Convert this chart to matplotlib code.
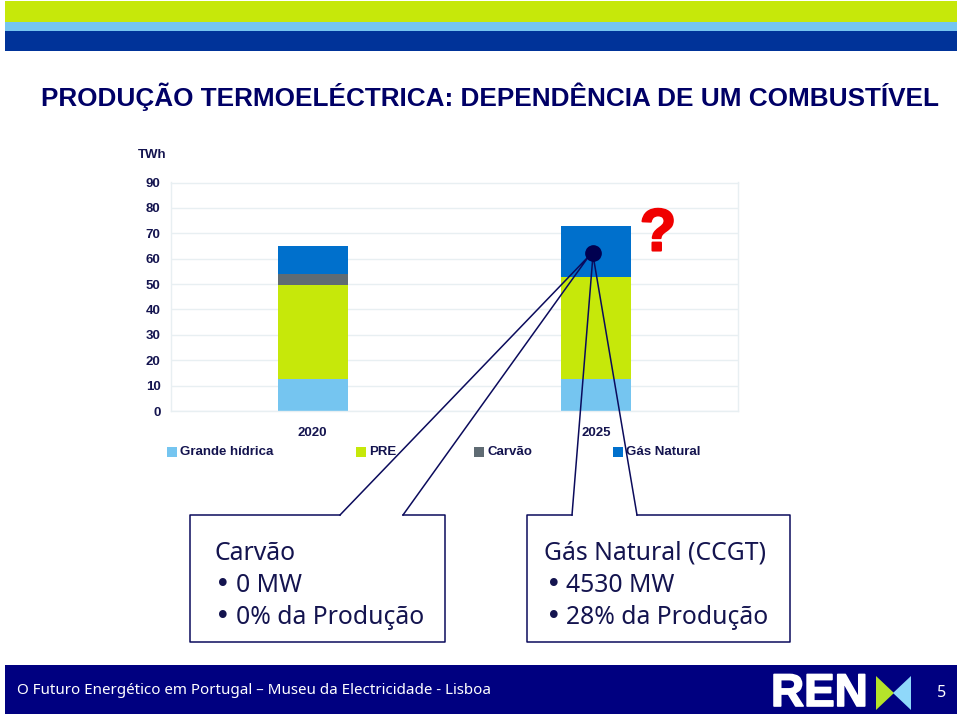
import matplotlib
matplotlib.use("Agg")
import matplotlib.pyplot as plt
import matplotlib.patheffects as pe
from matplotlib.patches import Rectangle, Polygon

years = ["2020", "2025"]
series_names = ["Grande hídrica", "PRE", "Carvão", "Gás Natural"]
grande_hidrica = [12.5, 12.5]
pre = [37.0, 40.2]
carvao = [4.5, 0.0]
gas_natural = [11.0, 20.0]
y_ticks = [0, 10, 20, 30, 40, 50, 60, 70, 80, 90]

colors = ["#75c5f0", "#c6e80a", "#5f6b73", "#0070cc"]
navy = "#0b0b5c"
W, H = 960, 716

fig = plt.figure(figsize=(9.6, 7.16), dpi=100, facecolor="white")

# full page layer in pixel coordinates
page = fig.add_axes([0, 0, 1, 1], zorder=0)
page.set_xlim(0, W)
page.set_ylim(H, 0)
page.axis("off")

# chart
left, right, top, bottom = 171, 738, 182.5, 411
ax = fig.add_axes([left / W, 1 - bottom / H, (right - left) / W, (bottom - top) / H], zorder=1)
ax.patch.set_alpha(0)
ax.set_xlim(-0.5, 1.5)
ax.set_ylim(0, 90)
ax.set_yticks(y_ticks)
ax.set_xticks([0, 1])
ax.set_xticklabels(years)
ax.grid(axis="y", color="#e8eff2", linewidth=1)
ax.set_axisbelow(True)
for s in ax.spines.values():
    s.set_color("#e8eff2")
    s.set_linewidth(1)
ax.tick_params(axis="both", length=0, labelsize=9.5, labelcolor="#14144f")
ax.tick_params(axis="y", pad=7.5)
ax.tick_params(axis="x", pad=11.5)
for t in ax.get_xticklabels() + ax.get_yticklabels():
    t.set_family("Liberation Sans")
    t.set_fontweight("bold")

base = [0, 0]
for name, vals, c in zip(series_names, [grande_hidrica, pre, carvao, gas_natural], colors):
    ax.bar([0, 1], vals, 0.247, bottom=base, color=c, label=name, zorder=2)
    base = [b + v for b, v in zip(base, vals)]

# top bands
page.add_patch(Rectangle((5, 1), 952, 21, color="#c6e80a", lw=0))
page.add_patch(Rectangle((5, 22), 952, 9, color="#75c5f0", lw=0))
page.add_patch(Rectangle((5, 31), 952, 20, color="#003399", lw=0))

# title
page.text(41, 97, "PRODUÇÃO TERMOELÉCTRICA: DEPENDÊNCIA DE UM COMBUSTÍVEL", fontsize=18.8,
          family="Liberation Sans", fontweight="bold", color="#000066", va="center", ha="left")
page.text(138, 155, "TWh", fontsize=9.5, family="Liberation Sans", fontweight="bold",
          color="#14144f", va="center")

# legend
for x, name, c in zip([167, 356, 474, 613], series_names, colors):
    page.add_patch(Rectangle((x, 447), 10, 10, color=c, lw=0))
    page.text(x + 13, 452, name, fontsize=9.5, family="Liberation Sans", fontweight="bold",
              color="#14144f", va="center", ha="left")

# callouts, over the chart
over = fig.add_axes([0, 0, 1, 1], zorder=2)
over.set_xlim(0, W)
over.set_ylim(H, 0)
over.axis("off")
over.patch.set_alpha(0)

over.text(658, 235, "?", fontsize=43, family="Liberation Sans", fontweight="bold",
          color="#f00000", va="center", ha="center",
          path_effects=[pe.withStroke(linewidth=1.5, foreground="#f00000")])
over.plot([593], [252.5], "o", ms=11, color="#000050", zorder=5)

over.add_patch(Rectangle((190, 515), 255, 127, fc="white", ec="none"))
over.add_patch(Rectangle((527, 515), 263, 127, fc="white", ec="none"))
over.plot([340, 190, 190, 445, 445, 403], [515, 515, 642, 642, 515, 515], color=navy, lw=1.1)
over.plot([340, 589, 403], [515, 256, 515], color=navy, lw=1.1)
over.plot([572, 527, 527, 790, 790, 637], [515, 515, 642, 642, 515, 515], color=navy, lw=1.1)
over.plot([572, 593, 637], [515, 255, 515], color=navy, lw=1.1)

body = dict(fontsize=17.8, family="Noto Sans", color="#14144f", va="center", ha="left")
bullet = dict(fontsize=19, family="DejaVu Sans", color="#14144f", va="center", ha="left")
over.text(215, 553, "Carvão", **body)
over.text(215, 585, "•", **bullet)
over.text(236, 585, "0 MW", **body)
over.text(215, 617, "•", **bullet)
over.text(236, 617, "0% da Produção", **body)
over.text(544, 553, "Gás Natural (CCGT)", **body)
over.text(546, 585, "•", **bullet)
over.text(566, 585, "4530 MW", **body)
over.text(546, 617, "•", **bullet)
over.text(566, 617, "28% da Produção", **body)

# footer
over.add_patch(Rectangle((5, 665), 952, 49, color="#000080", lw=0))
over.text(17, 690, "O Futuro Energético em Portugal – Museu da Electricidade - Lisboa", fontsize=10.9,
          family="Noto Sans", color="white", va="center", ha="left")
over.text(771, 694, "REN", fontsize=33, family="Liberation Sans", fontweight="bold", color="white",
          va="center", ha="left", path_effects=[pe.withStroke(linewidth=1.2, foreground="white")])
over.add_patch(Polygon([[876, 676], [876, 710], [894, 693]], color="#b5e32a", lw=0))
over.add_patch(Polygon([[911, 676], [911, 710], [893, 693]], color="#8fd8fa", lw=0))
over.text(942, 693, "5", fontsize=11.5, family="Noto Sans", color="white", va="center", ha="center")

fig.savefig("out.png", dpi=100)
